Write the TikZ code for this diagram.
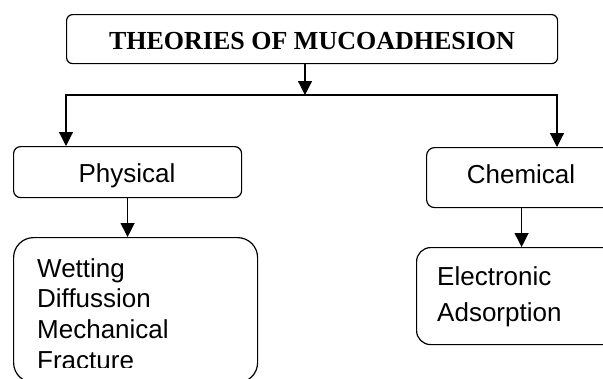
\documentclass[tikz,border=0pt]{standalone}
\usepackage{fontspec}
\setmainfont{Liberation Sans}
\newfontfamily\titlefont{Liberation Serif}
\usetikzlibrary{arrows.meta}
\begin{document}
\begin{tikzpicture}[x=1pt,y=-1pt,
  box/.style={draw, line width=1.2pt, inner sep=0pt, anchor=north west},
  lbl/.style={inner sep=0pt, font=\fontsize{26}{31}\selectfont},
  conn/.style={line width=1.2pt},
  arr/.style={conn, -{Triangle[width=14pt,length=14pt]}}]
\useasboundingbox (0,0) rectangle (603,378);
\clip (0,0) rectangle (603,378);
% boxes
\node[box, rounded corners=6pt, minimum width=491, minimum height=49] (title) at (66,14) {};
\node[box, rounded corners=7pt, minimum width=228, minimum height=51] (phys) at (13,146) {};
\node[box, rounded corners=8pt, minimum width=190, minimum height=60] (chem) at (426,147) {};
\node[box, rounded corners=20pt, minimum width=244, minimum height=145] (wet) at (13,237) {};
\node[box, rounded corners=14pt, minimum width=210, minimum height=97] (elec) at (416,247) {};
% texts
\node[lbl, anchor=base, font=\titlefont\bfseries\fontsize{26}{31}\selectfont] (titletext) at (312,49) {THEORIES OF MUCOADHESION};
\node[lbl, anchor=base] (phystext) at (127,182) {Physical};
\node[lbl, anchor=base] (chemtext) at (521,183) {Chemical};
\node[lbl, anchor=base west] (wet1) at (37,277) {Wetting};
\node[lbl, anchor=base west] (wet2) at (37,307.5) {Diffussion};
\node[lbl, anchor=base west] (wet3) at (37,338.5) {Mechanical};
\begin{scope}
  \clip (0,0) rectangle (603,367);
  \node[lbl, anchor=base west] (wet4) at (37,369.5) {Fracture};
\end{scope}
\node[lbl, anchor=base west] (el1) at (437,285) {Electronic};
\node[lbl, anchor=base west] (el2) at (437,321) {Adsorption};
% connectors
\coordinate (jm) at (305,95);
\coordinate (jl) at (66,95);
\coordinate (jr) at (557,95);
\draw[arr] (title.south -| jm) -- (jm);
\draw[arr] (jm) -| (jl |- phys.north);
\draw[arr] (jm) -| (jr |- chem.north);
\draw[arr] (phys.south) -- (phys.south |- wet.north);
\draw[arr] (chem.south) -- (chem.south |- elec.north);
\end{tikzpicture}
\end{document}
